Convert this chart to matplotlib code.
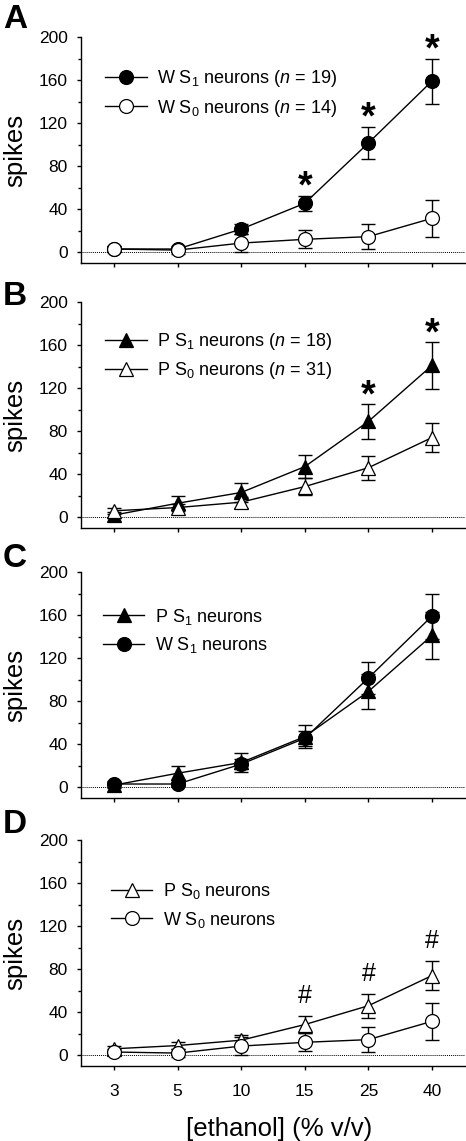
"""Spike counts vs ethanol concentration, four stacked panels."""

import matplotlib

matplotlib.use("Agg")

import matplotlib.pyplot as plt
from matplotlib.ticker import MultipleLocator

plt.rcParams["font.family"] = "Liberation Sans"
plt.rcParams["mathtext.fontset"] = "custom"
plt.rcParams["mathtext.rm"] = "Liberation Sans"
plt.rcParams["mathtext.it"] = "Liberation Sans:italic"
plt.rcParams["mathtext.bf"] = "Liberation Sans:bold"

# ethanol concentrations (% v/v), plotted as evenly spaced categories
ethanol = ["3", "5", "10", "15", "25", "40"]

w_s1_mean = [3, 3, 21.5, 45.5, 101.5, 159]
w_s1_err = [3, 2, 4.5, 7, 15, 21]
w_s0_mean = [3, 2, 8.5, 12, 14.5, 31.5]
w_s0_err = [3, 3.5, 8, 8.5, 11.5, 17]
p_s1_mean = [2, 13, 23, 47, 89, 141]
p_s1_err = [3, 6.5, 8.5, 11, 16, 21.5]
p_s0_mean = [6, 9, 14, 28.5, 46, 74]
p_s0_err = [3, 3.5, 5, 7.5, 11, 13.5]

# significance marks (index into ethanol)
a_stars = [3, 4, 5]
b_stars = [4, 5]
d_hashes = [3, 4, 5]

STYLE = {
    "W S1": dict(marker="o", mfc="black", ms=10),
    "W S0": dict(marker="o", mfc="white", ms=10),
    "P S1": dict(marker="^", mfc="black", ms=10.5),
    "P S0": dict(marker="^", mfc="white", ms=10.5),
}

FIG_W, FIG_H = 466, 1141
AX_LEFT, AX_RIGHT = 81, 465
AX_TOPS = [37, 302, 572, 840]
AX_H = 226


def _series(ax, key, mean, err, label):
    x = list(range(len(ethanol)))
    ax.errorbar(x, mean, yerr=err, fmt="none", ecolor="black", elinewidth=1.0,
                capsize=5.2, capthick=1.0, zorder=2)
    (line,) = ax.plot(x, mean, color="black", lw=1.0, mec="black", mew=0.9,
                      label=label, zorder=3, **STYLE[key])
    return line


def _mark(ax, idx, mean, err, text, size, weight, offset):
    for i in idx:
        ax.annotate(text, xy=(i, mean[i] + err[i]), xytext=(0, offset),
                    textcoords="offset points", ha="center", va="baseline",
                    fontsize=size, fontweight=weight)


def _style_axes(ax, show_xlabels):
    ax.set_xlim(-0.52, 5.52)
    ax.set_ylim(-10, 200)
    ax.spines["top"].set_visible(False)
    ax.spines["right"].set_visible(False)
    ax.spines["left"].set_linewidth(1.0)
    ax.spines["bottom"].set_linewidth(1.0)
    ax.axhline(0, color="black", lw=0.7, ls=(0, (1, 1)), zorder=1)
    ax.yaxis.set_major_locator(MultipleLocator(40))
    ax.yaxis.set_minor_locator(MultipleLocator(20))
    ax.set_xticks(range(len(ethanol)))
    ax.set_xticklabels(ethanol if show_xlabels else [])
    ax.tick_params(axis="both", which="major", direction="out", length=3,
                   width=1.0, labelsize=12.5)
    ax.tick_params(axis="y", which="major", pad=6.5)
    ax.tick_params(axis="x", which="major", pad=10)
    ax.tick_params(axis="y", which="minor", direction="out", length=2, width=1.0)
    ax.set_ylabel("spikes", fontsize=18.5)
    ax.yaxis.set_label_coords(-0.14, 0.5)


def _legend(ax, handles, x, y):
    ax.legend(handles=handles, loc="center left", bbox_to_anchor=(x, y),
              frameon=False, fontsize=13, handlelength=2.3, handletextpad=0.6,
              borderpad=0, borderaxespad=0, labelspacing=0.45, numpoints=1)


fig = plt.figure(figsize=(FIG_W / 100, FIG_H / 100), dpi=100)
axes = []
for top in AX_TOPS:
    rect = [AX_LEFT / FIG_W, 1 - (top + AX_H) / FIG_H,
            (AX_RIGHT - AX_LEFT) / FIG_W, AX_H / FIG_H]
    axes.append(fig.add_axes(rect))
ax_a, ax_b, ax_c, ax_d = axes

# A
h1 = _series(ax_a, "W S1", w_s1_mean, w_s1_err, r"W S$_1$ neurons ($n$ = 19)")
h2 = _series(ax_a, "W S0", w_s0_mean, w_s0_err, r"W S$_0$ neurons ($n$ = 14)")
_mark(ax_a, a_stars, w_s1_mean, w_s1_err, "*", 27, "bold", -1.5)
_legend(ax_a, [h1, h2], 0.0625, 0.75)

# B
h1 = _series(ax_b, "P S1", p_s1_mean, p_s1_err, r"P S$_1$ neurons ($n$ = 18)")
h2 = _series(ax_b, "P S0", p_s0_mean, p_s0_err, r"P S$_0$ neurons ($n$ = 31)")
_mark(ax_b, b_stars, p_s1_mean, p_s1_err, "*", 27, "bold", -1.5)
_legend(ax_b, [h1, h2], 0.0625, 0.76)

# C
h1 = _series(ax_c, "P S1", p_s1_mean, p_s1_err, r"P S$_1$ neurons")
h2 = _series(ax_c, "W S1", w_s1_mean, w_s1_err, r"W S$_1$ neurons")
_legend(ax_c, [h1, h2], 0.057, 0.74)

# D
h1 = _series(ax_d, "P S0", p_s0_mean, p_s0_err, r"P S$_0$ neurons")
h2 = _series(ax_d, "W S0", w_s0_mean, w_s0_err, r"W S$_0$ neurons")
_mark(ax_d, d_hashes, p_s0_mean, p_s0_err, "#", 18, "normal", 9.5)
_legend(ax_d, [h1, h2], 0.078, 0.71)

for ax in axes:
    _style_axes(ax, ax is ax_d)

ax_d.set_xlabel("[ethanol] (% v/v)", fontsize=18.5)
ax_d.xaxis.set_label_coords(0.515, -0.225)

for letter, base in zip("ABCD", [28, 305, 567, 833]):
    fig.text(3 / FIG_W, 1 - base / FIG_H, letter, fontsize=24,
             fontweight="bold", va="baseline", ha="left")

fig.savefig("out.png", dpi=100)
plt.close(fig)
